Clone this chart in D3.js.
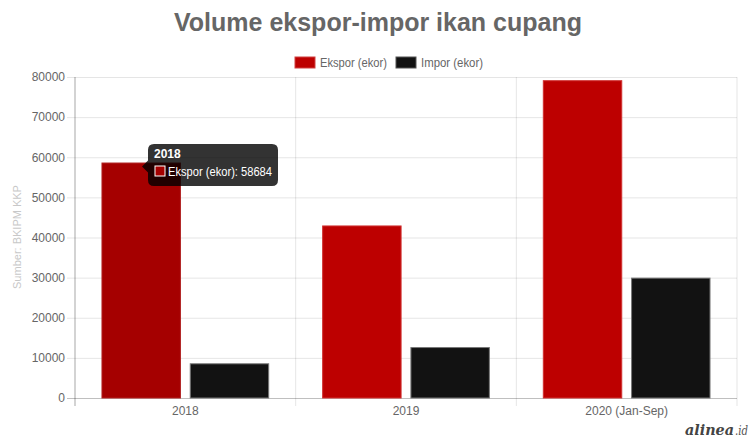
<!DOCTYPE html>
<html><head><meta charset="utf-8">
<script src="https://cdn.jsdelivr.net/npm/d3@7"></script>
<style>html,body{margin:0;padding:0;background:#fff;}svg{display:block;font-family:"Liberation Sans",Arial,sans-serif;}</style>
</head><body>
<svg id="c" width="752" height="437"></svg>
<script>
const categories = ["2018", "2019", "2020 (Jan-Sep)"];
const seriesNames = ["Ekspor (ekor)", "Impor (ekor)"];
const ekspor = [58684, 43000, 79200];
const impor = [8650, 12700, 30000];
const yTicks = [0, 10000, 20000, 30000, 40000, 50000, 60000, 70000, 80000];
const colors = ["#bd0000", "#121212"];

const svg = d3.select("#c");
const W = 752, H = 437;
const m = {left: 75, right: 15, top: 77, bottom: 39};
const x = d3.scaleBand().domain(categories).range([m.left, W - m.right]).paddingInner(0).paddingOuter(0);
const y = d3.scaleLinear().domain([0, 80000]).range([H - m.bottom, m.top]);
const x1 = d3.scaleBand().domain(seriesNames).range([0, x.bandwidth()]).paddingInner(0.1).paddingOuter(0.3);

// title
svg.append("text").attr("x", 378).attr("y", 31).attr("text-anchor", "middle")
  .attr("font-size", 25).attr("font-weight", "bold").attr("fill", "#666")
  .text("Volume ekspor-impor ikan cupang");

// legend
const leg = [{n: seriesNames[0], c: colors[0], x: 295}, {n: seriesNames[1], c: colors[1], x: 396}];
leg.forEach(l => {
  svg.append("rect").attr("x", l.x).attr("y", 57).attr("width", 20).attr("height", 11).attr("fill", l.c)
    .attr("stroke", l.c === colors[0] ? "#d04040" : "#555").attr("stroke-width", 1);
  svg.append("text").attr("x", l.x + 25).attr("y", 66.5).attr("font-size", 12).attr("fill", "#666")
    .attr("textLength", l.x === 295 ? 67 : 62).attr("lengthAdjust", "spacingAndGlyphs").text(l.n);
});

// horizontal grid
const yAxis = d3.axisLeft(y).tickValues(yTicks).tickSize(W - m.right - m.left + 8).tickFormat(d3.format("d")).tickPadding(2);
const gy = svg.append("g").attr("transform", `translate(${W - m.right},0)`).call(yAxis);
gy.select(".domain").remove();
gy.selectAll(".tick line").attr("stroke", "rgba(0,0,0,0.1)").attr("stroke-width", 1)
  .attr("x2", -(W - m.right - m.left + 8)).attr("x1", 0);
gy.selectAll(".tick line").filter(d => d === 0).attr("stroke", "rgba(0,0,0,0.25)");
gy.selectAll(".tick text").attr("font-size", 12).attr("fill", "#666").attr("font-family", "Liberation Sans, Arial, sans-serif");

// vertical grid at category boundaries
const bounds = categories.map(c => x(c)).concat([x(categories[categories.length - 1]) + x.bandwidth()]);
svg.append("g").selectAll("line").data(bounds).join("line")
  .attr("x1", d => d).attr("x2", d => d).attr("y1", m.top).attr("y2", H - m.bottom + 8)
  .attr("stroke", "rgba(0,0,0,0.1)");
svg.append("line").attr("x1", m.left).attr("x2", m.left).attr("y1", m.top).attr("y2", H - m.bottom + 8)
  .attr("stroke", "rgba(0,0,0,0.25)");

// x labels
svg.append("g").selectAll("text").data(categories).join("text")
  .attr("x", d => x(d) + x.bandwidth() / 2).attr("y", 415).attr("text-anchor", "middle")
  .attr("font-size", 12).attr("fill", "#666").text(d => d);

// y axis label
svg.append("text").attr("transform", "translate(21,237) rotate(-90)").attr("text-anchor", "middle")
  .attr("font-size", 11).attr("fill", "#c8c8c8").text("Sumber: BKIPM KKP");

// bars
const data = categories.map((c, i) => ({c, vals: [ekspor[i], impor[i]]}));
const g = svg.append("g");
data.forEach((d, i) => {
  d.vals.forEach((v, j) => {
    const hovered = (i === 0 && j === 0);
    const fill = j === 0 ? (hovered ? "#a50000" : colors[0]) : colors[1];
    const stroke = j === 0 ? (hovered ? "#b02020" : "#d03030") : "#777";
    g.append("rect")
      .attr("x", x(d.c) + x1(seriesNames[j]) + 0.5)
      .attr("y", y(v) + 0.5)
      .attr("width", x1.bandwidth() - 1)
      .attr("height", y(0) - y(v) - 0.5)
      .attr("fill", fill).attr("stroke", stroke).attr("stroke-width", 1);
  });
});

// tooltip for 2018 Ekspor
const tipX = 148, tipY = 144, tipW = 130, tipH = 42;
const cy = y(ekspor[0]) + 4;
const tip = svg.append("g");
tip.append("path")
  .attr("d", `M${tipX + 6},${tipY} H${tipX + tipW - 6} Q${tipX + tipW},${tipY} ${tipX + tipW},${tipY + 6} V${tipY + tipH - 6} Q${tipX + tipW},${tipY + tipH} ${tipX + tipW - 6},${tipY + tipH} H${tipX + 6} Q${tipX},${tipY + tipH} ${tipX},${tipY + tipH - 6} V${cy + 6} L${tipX - 6},${cy} L${tipX},${cy - 6} V${tipY + 6} Q${tipX},${tipY} ${tipX + 6},${tipY} Z`)
  .attr("fill", "rgba(0,0,0,0.8)");
tip.append("text").attr("x", tipX + 6).attr("y", tipY + 14).attr("font-size", 12).attr("font-weight", "bold")
  .attr("fill", "#fff").text(categories[0]);
tip.append("rect").attr("x", tipX + 7).attr("y", tipY + 22).attr("width", 10).attr("height", 10)
  .attr("fill", "#a50000").attr("stroke", "#fff").attr("stroke-width", 1);
tip.append("text").attr("x", tipX + 20).attr("y", tipY + 32).attr("font-size", 12).attr("fill", "#fff")
  .attr("textLength", 104).attr("lengthAdjust", "spacingAndGlyphs")
  .text(seriesNames[0] + ": " + ekspor[0]);

// logo
svg.append("text").attr("x", 685).attr("y", 435)
  .attr("font-family", "DejaVu Serif, serif").attr("font-style", "italic").attr("font-weight", "bold")
  .attr("font-size", 14).attr("fill", "#444")
  .attr("textLength", 49).attr("lengthAdjust", "spacingAndGlyphs").text("alinea");
svg.append("text").attr("x", 735).attr("y", 435)
  .attr("font-family", "DejaVu Serif, serif").attr("font-style", "italic")
  .attr("font-size", 12).attr("fill", "#555")
  .attr("textLength", 13).attr("lengthAdjust", "spacingAndGlyphs").text(".id");
</script>
</body></html>
